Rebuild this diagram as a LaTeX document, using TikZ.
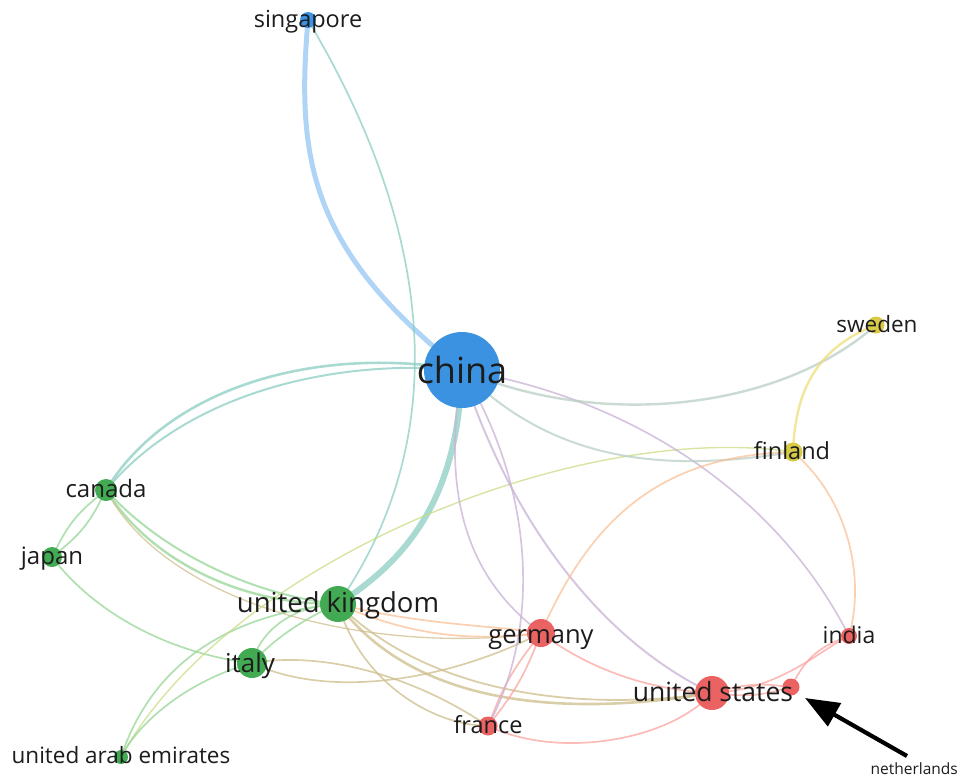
\documentclass[tikz,border=0pt]{standalone}
\usepackage{fontspec}
\setmainfont{Open Sans}
\usetikzlibrary{arrows.meta}
\pgfdeclarelayer{edges}
\pgfsetlayers{edges,main}

% cluster colours
\definecolor{cBlue}{RGB}{58,146,224}
\definecolor{cGreen}{RGB}{66,170,82}
\definecolor{cRed}{RGB}{234,98,98}
\definecolor{cYellow}{RGB}{216,202,70}
% link colours
\definecolor{eBlue}{RGB}{150,198,242}
\definecolor{eGreen}{RGB}{150,212,150}
\definecolor{eRed}{RGB}{250,165,160}
\definecolor{eYellow}{RGB}{238,222,120}
\definecolor{eBlueGreen}{RGB}{140,205,195}
\definecolor{eBlueRed}{RGB}{200,178,212}
\definecolor{eGreenRed}{RGB}{205,190,140}
\definecolor{eBlueYellow}{RGB}{185,205,195}
\definecolor{eRedYellow}{RGB}{250,192,150}
\definecolor{eGreenYellow}{RGB}{200,220,130}
\definecolor{labelgray}{RGB}{28,28,28}

\begin{document}
\begin{tikzpicture}[x=1pt,y=-1pt,
  dot/.style={circle,inner sep=0pt,minimum size=#1},
  lbl/.style={text=labelgray,inner sep=0pt,anchor=base,font=\fontsize{#1}{#1}\selectfont},
  link/.style={draw=#1,line width=1.7pt,opacity=0.75,line cap=round},
]
\useasboundingbox (0,0) rectangle (960,777);

% ---- items ----
\node[dot=76pt,fill=cBlue]   (chn) at (462,370) {};
\node[dot=16pt,fill=cBlue]   (sgp) at (308,20)  {};
\node[dot=17pt,fill=cYellow] (swe) at (876,325) {};
\node[dot=19pt,fill=cYellow] (fin) at (793,452) {};
\node[dot=22pt,fill=cGreen]  (can) at (106,490) {};
\node[dot=20pt,fill=cGreen]  (jpn) at (52,557)  {};
\node[dot=36pt,fill=cGreen]  (gbr) at (338,604) {};
\node[dot=30pt,fill=cGreen]  (ita) at (252,663) {};
\node[dot=14pt,fill=cGreen]  (are) at (121,757) {};
\node[dot=28pt,fill=cRed]    (deu) at (541,633) {};
\node[dot=19pt,fill=cRed]    (fra) at (488,726) {};
\node[dot=34pt,fill=cRed]    (usa) at (712,693) {};
\node[dot=17pt,fill=cRed]    (nld) at (791,687) {};
\node[dot=16pt,fill=cRed]    (ind) at (849,636) {};

% ---- links ----
\begin{pgfonlayer}{edges}
\draw[link=eBlue,line width=5pt] (sgp.center) .. controls (296,160) and (310,250) .. (chn.center);
\draw[link=eBlueGreen] (sgp.center) .. controls (445,250) and (445,450) .. (gbr.center);
\draw[link=eBlueGreen,line width=2.6pt] (can.center) .. controls (170,385) and (320,345) .. (chn.center);
\draw[link=eBlueGreen,line width=2pt] (can.center) .. controls (185,395) and (330,358) .. (chn.center);
\draw[link=eBlueGreen,line width=6pt] (chn.center) .. controls (458,490) and (415,555) .. (gbr.center);
\draw[link=eGreen,line width=2.4pt] (can.center) .. controls (150,560) and (240,605) .. (gbr.center);
\draw[link=eGreen,line width=2pt] (can.center) .. controls (160,550) and (250,595) .. (gbr.center);
\draw[link=eGreen] (can) to[bend right=12] (jpn);
\draw[link=eGreen] (can) to[bend left=12] (jpn);
\draw[link=eGreen] (jpn.center) .. controls (100,620) and (180,655) .. (ita.center);
\draw[link=eGreenRed,line width=1.3pt] (can.center) .. controls (170,610) and (380,655) .. (deu.center);
\draw[link=eRedYellow] (gbr.center) .. controls (420,640) and (480,640) .. (deu.center);
\draw[link=eRedYellow] (gbr.center) .. controls (420,625) and (490,625) .. (deu.center);
\draw[link=eGreenRed,line width=2.6pt] (gbr.center) .. controls (410,700) and (550,720) .. (usa.center);
\draw[link=eGreenRed,line width=1.8pt] (gbr.center) .. controls (430,695) and (580,712) .. (usa.center);
\draw[link=eGreenRed] (gbr.center) .. controls (360,680) and (430,725) .. (fra.center);
\draw[link=eGreen] (ita.center) .. controls (262,625) and (300,605) .. (gbr.center);
\draw[link=eGreen] (ita.center) .. controls (275,638) and (305,618) .. (gbr.center);
\draw[link=eGreen] (are.center) .. controls (150,670) and (220,615) .. (gbr.center);
\draw[link=eGreenYellow,line width=1.4pt] (fin.center) .. controls (580,420) and (230,560) .. (are.center);
\draw[link=eGreen] (ita.center) .. controls (190,680) and (140,720) .. (are.center);
\draw[link=eGreenRed] (ita.center) .. controls (330,700) and (450,680) .. (deu.center);
\draw[link=eGreenRed] (ita.center) .. controls (330,650) and (420,680) .. (fra.center);
\draw[link=eRed] (deu) to[bend right=8] (fra);
\draw[link=eRed] (deu) to[bend left=8] (fra);
\draw[link=eBlueRed] (chn.center) .. controls (530,480) and (545,620) .. (fra.center);
\draw[link=eBlueRed] (chn.center) .. controls (440,500) and (470,580) .. (deu.center);
\draw[link=eBlueRed,line width=2pt] (chn.center) .. controls (510,520) and (600,640) .. (usa.center);
\draw[link=eBlueRed] (chn.center) .. controls (640,400) and (780,500) .. (ind.center);
\draw[link=eBlueYellow,line width=2pt] (chn.center) .. controls (560,470) and (680,470) .. (fin.center);
\draw[link=eBlueYellow,line width=2.4pt] (chn.center) .. controls (600,430) and (780,410) .. (swe.center);
\draw[link=eYellow,line width=2.4pt] (fin.center) .. controls (795,400) and (810,350) .. (swe.center);
\draw[link=eRedYellow] (fin.center) .. controls (850,500) and (865,580) .. (ind.center);
\draw[link=eRedYellow] (deu.center) .. controls (590,520) and (660,455) .. (fin.center);
\draw[link=eRed] (deu.center) .. controls (590,670) and (650,690) .. (usa.center);
\draw[link=eRed] (fra.center) .. controls (560,760) and (670,740) .. (usa.center);
\draw[link=eRed] (usa) to[bend left=10] (nld);
\draw[link=eRed] (usa) to[bend right=10] (nld);
\draw[link=eRed] (nld) to[bend left=20] (ind);
\draw[link=eRed] (usa.center) .. controls (780,690) and (820,650) .. (ind.center);
\end{pgfonlayer}

% ---- labels ----
\node[lbl=36] (chn-t) at (462,383) {china};
\node[lbl=23.5] (sgp-t) at (308,27) {singapore};
\node[lbl=22.5] (swe-t) at (877,332) {sweden};
\node[lbl=23.5] (fin-t) at (792,459) {finland};
\node[lbl=24] (can-t) at (106,497) {canada};
\node[lbl=24] (jpn-t) at (52,564) {japan};
\node[lbl=27.5] (gbr-t) at (338,612) {united kingdom};
\node[lbl=26] (ita-t) at (250,672) {italy};
\node[lbl=22.5] (are-t) at (121,763) {united arab emirates};
\node[lbl=25.5] (deu-t) at (541,643) {germany};
\node[lbl=23.5] (fra-t) at (488,733) {france};
\node[lbl=26.5] (usa-t) at (713,701) {united states};
\node[lbl=23] (ind-t) at (849,643) {india};
\node[lbl=15.5,anchor=base east] (nld-t) at (958,774) {netherlands};

% ---- pointer to the small item ----
\coordinate (ptr-tail) at (907,756);
\coordinate (ptr-tip) at (805,698);
\draw[-{Triangle[length=34pt,width=26pt]},line width=4.2pt,black] (ptr-tail) -- (ptr-tip);
\end{tikzpicture}
\end{document}
